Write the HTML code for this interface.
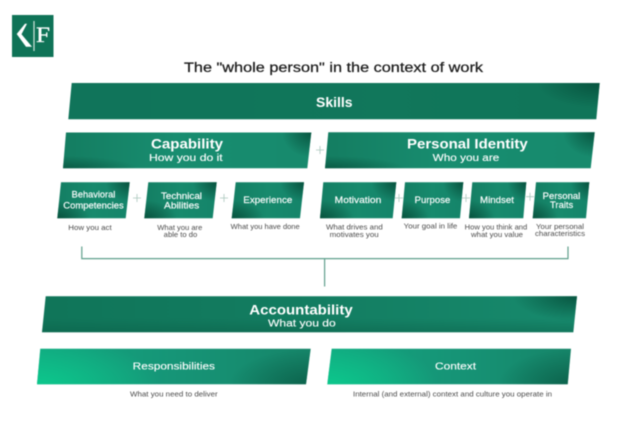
<!DOCTYPE html>
<html><head><meta charset="utf-8">
<style>
html,body{margin:0;padding:0;background:#fff;width:640px;height:436px;overflow:hidden}
svg{display:block;filter:blur(.4px)}
text{font-family:"Liberation Sans",sans-serif;text-anchor:start}
.w{fill:#fff}
.h{font-weight:bold;font-size:13.6px}
.s{font-size:10px;fill:#fff;stroke:#fff;stroke-width:.12}
.m{font-size:9.1px;fill:#fff;stroke:#fff;stroke-width:.15}
.c{font-size:7.1px;fill:#4a4a4a}
.p{stroke:#a9c6bc;stroke-width:.8;fill:none}
</style></head>
<body>
<svg width="640" height="436" viewBox="0 0 640 436" xmlns="http://www.w3.org/2000/svg">
<defs>
<linearGradient id="big"><stop offset="0" stop-color="#147d61"/><stop offset=".45" stop-color="#188d70"/><stop offset="1" stop-color="#178a6d"/></linearGradient>
<linearGradient id="small"><stop offset="0" stop-color="#147e63"/><stop offset=".5" stop-color="#178a6d"/><stop offset="1" stop-color="#15846a"/></linearGradient>
<linearGradient id="skills"><stop offset="0" stop-color="#10745a"/><stop offset=".6" stop-color="#11775b"/><stop offset="1" stop-color="#107559"/></linearGradient>
<linearGradient id="acc"><stop offset="0" stop-color="#107559"/><stop offset=".5" stop-color="#137d61"/><stop offset="1" stop-color="#178a6d"/></linearGradient>
<linearGradient id="accB" x1="0" y1="0" x2="0" y2="1"><stop offset=".6" stop-color="#0a5a44" stop-opacity="0"/><stop offset="1" stop-color="#0a5a44" stop-opacity=".4"/></linearGradient>
<linearGradient id="resp"><stop offset="0" stop-color="#12a67f"/><stop offset=".5" stop-color="#169577"/><stop offset="1" stop-color="#168569"/></linearGradient>
<radialGradient id="tr" cx="0" cy="0" r="1" gradientTransform="translate(1 0) scale(.12 .7)"><stop offset="0" stop-color="#07503c" stop-opacity=".9"/><stop offset="1" stop-color="#07503c" stop-opacity="0"/></radialGradient>
<radialGradient id="bl" cx="0" cy="0" r="1" gradientTransform="translate(0 1) scale(.3 .35)"><stop offset="0" stop-color="#07503c" stop-opacity=".75"/><stop offset="1" stop-color="#07503c" stop-opacity="0"/></radialGradient>
<radialGradient id="trS" cx="0" cy="0" r="1" gradientTransform="translate(1 0) scale(.33 .55)"><stop offset="0" stop-color="#07503c" stop-opacity=".95"/><stop offset="1" stop-color="#07503c" stop-opacity="0"/></radialGradient>
<radialGradient id="blS" cx="0" cy="0" r="1" gradientTransform="translate(0 1) scale(.45 .5)"><stop offset="0" stop-color="#07503c" stop-opacity=".95"/><stop offset="1" stop-color="#07503c" stop-opacity="0"/></radialGradient>
<radialGradient id="brD" cx="0" cy="0" r="1" gradientTransform="translate(1 1) scale(.3 1)"><stop offset="0" stop-color="#07503c" stop-opacity=".65"/><stop offset="1" stop-color="#07503c" stop-opacity="0"/></radialGradient>
<radialGradient id="blB" cx="0" cy="0" r="1" gradientTransform="translate(0 1) scale(.45 1.3)"><stop offset="0" stop-color="#0cc98d" stop-opacity=".95"/><stop offset="1" stop-color="#0cc98d" stop-opacity="0"/></radialGradient>

<polygon id="b1" points="71.7,83 599.7,83 596.3,119.3 68.3,119.3"/>
<polygon id="b2" points="66,132.5 311.3,132.5 307.3,168.3 63,168.3"/>
<polygon id="b3" points="328.3,132.3 594.7,132.3 590.7,168.3 325,168.3"/>
<polygon id="s1" points="61,182.3 129.7,182.3 125.7,218.3 57.3,218.3"/>
<polygon id="s2" points="148.3,182.3 216.7,182.3 212.7,218.3 144.3,218.3"/>
<polygon id="s3" points="235.7,182.3 304,182.3 300,218.3 231.7,218.3"/>
<polygon id="s4" points="323.3,182.3 396.3,182.3 392.7,218.3 320,218.3"/>
<polygon id="s5" points="405,182.3 463.3,182.3 460,218.3 401.7,218.3"/>
<polygon id="s6" points="472.3,182.3 526.3,182.3 523.3,218.3 469,218.3"/>
<polygon id="s7" points="536,182.3 589.3,182.3 586,218.3 532.7,218.3"/>
<polygon id="b4" points="45.7,296.3 577,296.3 573.3,332.3 42,332.3"/>
<polygon id="b5" points="40.3,348.7 310.7,348.7 306,384.3 37,384.3"/>
<polygon id="b6" points="331.7,348.7 571,348.7 567.7,384.3 327.3,384.3"/>
</defs>

<!-- logo -->
<rect x="12" y="15" width="41.5" height="42" fill="#0f7357"/>
<polygon points="25,23.7 16.7,34 26,46.8 32,46.8 21.5,34.3 27,23.7" fill="#fff"/>
<rect x="33.4" y="21" width="1.2" height="30" fill="#cfe3dc"/>
<text x="36" y="42" style="font-family:'Liberation Serif',serif;font-size:22px" fill="#fff" stroke="#fff" stroke-width=".3" textLength="14" lengthAdjust="spacingAndGlyphs">F</text>

<!-- title -->
<text x="184" y="72" font-size="14.2" fill="#1b1b1b" stroke="#1b1b1b" stroke-width=".25" textLength="299" lengthAdjust="spacingAndGlyphs">The "whole person" in the context of work</text>

<!-- bars -->
<use href="#b1" fill="url(#skills)"/><use href="#b1" fill="url(#tr)"/>
<use href="#b2" fill="url(#big)"/><use href="#b2" fill="url(#tr)"/><use href="#b2" fill="url(#bl)"/>
<use href="#b3" fill="url(#big)"/><use href="#b3" fill="url(#tr)"/><use href="#b3" fill="url(#bl)"/>

<use href="#s1" fill="url(#small)"/><use href="#s1" fill="url(#trS)"/><use href="#s1" fill="url(#blS)"/>
<use href="#s2" fill="url(#small)"/><use href="#s2" fill="url(#trS)"/><use href="#s2" fill="url(#blS)"/>
<use href="#s3" fill="url(#small)"/><use href="#s3" fill="url(#trS)"/><use href="#s3" fill="url(#blS)"/>
<use href="#s4" fill="url(#small)"/><use href="#s4" fill="url(#trS)"/><use href="#s4" fill="url(#blS)"/>
<use href="#s5" fill="url(#small)"/><use href="#s5" fill="url(#trS)"/><use href="#s5" fill="url(#blS)"/>
<use href="#s6" fill="url(#small)"/><use href="#s6" fill="url(#trS)"/><use href="#s6" fill="url(#blS)"/>
<use href="#s7" fill="url(#small)"/><use href="#s7" fill="url(#trS)"/><use href="#s7" fill="url(#blS)"/>

<use href="#b4" fill="url(#acc)"/><use href="#b4" fill="url(#accB)"/><use href="#b4" fill="url(#tr)"/>
<use href="#b5" fill="url(#resp)"/><use href="#b5" fill="url(#blB)"/><use href="#b5" fill="url(#brD)"/>
<use href="#b6" fill="url(#resp)"/><use href="#b6" fill="url(#blB)"/><use href="#b6" fill="url(#brD)"/>

<!-- bracket -->
<path d="M81.8 246.5V258.6H568V246.5M324.6 258.6V286.5" fill="none" stroke="#5f9f8c" stroke-width="1.2"/>

<!-- pluses -->
<path class="p" d="M316 150h8M320 146v8"/>
<path class="p" d="M133 198h8M137 194v8"/>
<path class="p" d="M220 198h8M224 194v8"/>
<path class="p" d="M395 198h8M399 194v8"/>
<path class="p" d="M462 198h8M466 194v8"/>
<path class="p" d="M526 196.7h8M530 192.7v8"/>

<!-- headings -->
<text class="w" x="316" y="107" font-size="13.4" font-weight="bold" textLength="36.5" lengthAdjust="spacingAndGlyphs">Skills</text>
<text class="w h" x="151" y="148.4" textLength="72" lengthAdjust="spacingAndGlyphs">Capability</text>
<text class="s" x="149" y="161" textLength="73.7" lengthAdjust="spacingAndGlyphs">How you do it</text>
<text class="w h" x="407" y="148.4" textLength="120.7" lengthAdjust="spacingAndGlyphs">Personal Identity</text>
<text class="s" x="432.7" y="161" textLength="66.6" lengthAdjust="spacingAndGlyphs">Who you are</text>

<text class="m" x="71.7" y="197.7" textLength="43.6" lengthAdjust="spacingAndGlyphs">Behavioral</text>
<text class="m" x="63.3" y="208.3" textLength="60.4" lengthAdjust="spacingAndGlyphs">Competencies</text>
<text class="m" x="161" y="199" textLength="41" lengthAdjust="spacingAndGlyphs">Technical</text>
<text class="m" x="164" y="208.3" textLength="35.3" lengthAdjust="spacingAndGlyphs">Abilities</text>
<text class="m" x="243.3" y="203" textLength="49" lengthAdjust="spacingAndGlyphs">Experience</text>
<text class="m" x="334.7" y="203" textLength="46.6" lengthAdjust="spacingAndGlyphs">Motivation</text>
<text class="m" x="414.7" y="203" textLength="35.6" lengthAdjust="spacingAndGlyphs">Purpose</text>
<text class="m" x="480" y="203" textLength="34" lengthAdjust="spacingAndGlyphs">Mindset</text>
<text class="m" x="542.7" y="199" textLength="37.6" lengthAdjust="spacingAndGlyphs">Personal</text>
<text class="m" x="550" y="208" textLength="23.3" lengthAdjust="spacingAndGlyphs">Traits</text>

<!-- captions -->
<text class="c" x="68.3" y="230" textLength="43.4" lengthAdjust="spacingAndGlyphs">How you act</text>
<text class="c" x="157.3" y="230" textLength="45" lengthAdjust="spacingAndGlyphs">What you are</text>
<text class="c" x="163.7" y="237" textLength="33.6" lengthAdjust="spacingAndGlyphs">able to do</text>
<text class="c" x="230.7" y="229" textLength="69" lengthAdjust="spacingAndGlyphs">What you have done</text>
<text class="c" x="326" y="229.7" textLength="56.7" lengthAdjust="spacingAndGlyphs">What drives and</text>
<text class="c" x="329.7" y="237" textLength="49" lengthAdjust="spacingAndGlyphs">motivates you</text>
<text class="c" x="403.7" y="228.7" textLength="53.6" lengthAdjust="spacingAndGlyphs">Your goal in life</text>
<text class="c" x="464.7" y="229.7" textLength="62.6" lengthAdjust="spacingAndGlyphs">How you think and</text>
<text class="c" x="471" y="237" textLength="52" lengthAdjust="spacingAndGlyphs">what you value</text>
<text class="c" x="536" y="229" textLength="48" lengthAdjust="spacingAndGlyphs">Your personal</text>
<text class="c" x="535" y="236" textLength="50" lengthAdjust="spacingAndGlyphs">characteristics</text>

<text class="w h" x="249.3" y="314.7" textLength="103.4" lengthAdjust="spacingAndGlyphs">Accountability</text>
<text class="s" x="268" y="326.7" textLength="67.7" lengthAdjust="spacingAndGlyphs">What you do</text>
<text class="s" x="132.7" y="369.3" textLength="82.3" lengthAdjust="spacingAndGlyphs">Responsibilities</text>
<text class="s" x="435" y="369.3" textLength="41" lengthAdjust="spacingAndGlyphs">Context</text>
<text class="c" x="130" y="396.3" textLength="87.7" lengthAdjust="spacingAndGlyphs">What you need to deliver</text>
<text class="c" x="353" y="396.3" textLength="199" lengthAdjust="spacingAndGlyphs">Internal (and external) context and culture you operate in</text>
</svg>
</body></html>
